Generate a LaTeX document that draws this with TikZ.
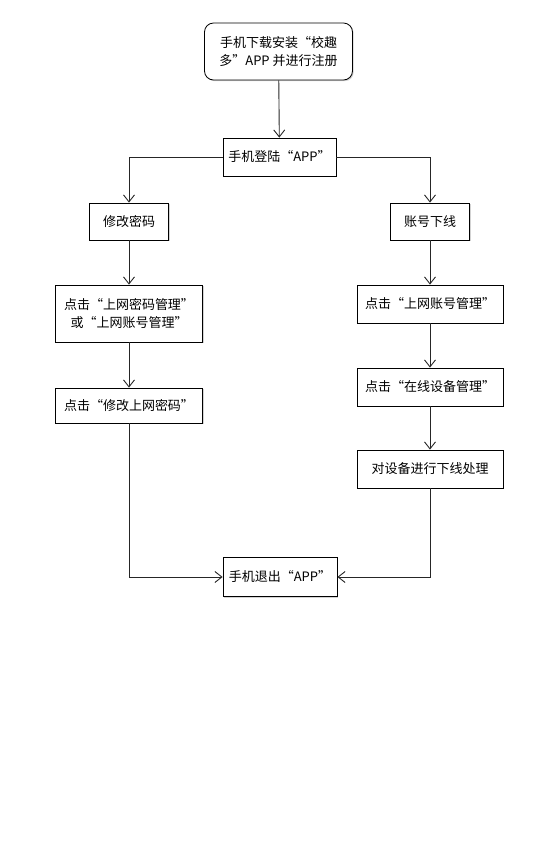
\documentclass[tikz,border=0pt]{standalone}
\usepackage{fontspec}
\setmainfont{Noto Sans CJK SC}
\usetikzlibrary{arrows.meta,shadows}

\begin{document}
\begin{tikzpicture}[x=1pt,y=-1pt,
font=\fontsize{13}{18}\selectfont,
box/.style={draw, rectangle, fill=white, line width=0.8pt, align=center, inner sep=2pt,
  drop shadow={shadow xshift=1.2pt, shadow yshift=-1.2pt, opacity=0.35}},
startbox/.style={box, rounded corners=9pt},
->/.style={draw=black!85, line width=0.9pt, -{Straight Barb[length=7pt,width=11pt]}}
]
\useasboundingbox (0,0) rectangle (554,847);

\node[startbox, minimum width=148pt, minimum height=57pt] (install) at (278.5,51.5) {手机下载安装“校趣\\多”APP 并进行注册};
\node[box, minimum width=113pt, minimum height=38pt] (login) at (279.5,157) {手机登陆“APP”};

\node[box, minimum width=79pt, minimum height=37pt] (pwd) at (129,221.5) {修改密码};
\node[box, minimum width=147pt, minimum height=57pt] (pwdmgr) at (129,313.5) {点击“上网密码管理”\\或“上网账号管理”};
\node[box, minimum width=147pt, minimum height=35pt] (pwdset) at (129,405.5) {点击“修改上网密码”};

\node[box, minimum width=79pt, minimum height=37pt] (acct) at (430,221.5) {账号下线};
\node[box, minimum width=146pt, minimum height=38pt] (acctmgr) at (430,304) {点击“上网账号管理”};
\node[box, minimum width=146pt, minimum height=38pt] (devmgr) at (430,387) {点击“在线设备管理”};
\node[box, minimum width=146pt, minimum height=38pt] (offline) at (430,469) {对设备进行下线处理};

\node[box, minimum width=114pt, minimum height=39pt] (quit) at (280,577) {手机退出“APP”};

\draw[->] (install) -- (login);
\draw[->] (login.west) -| (pwd);
\draw[->] (login.east) -| (acct);
\draw[->] (pwd) -- (pwdmgr);
\draw[->] (pwdmgr) -- (pwdset);
\draw[->] (acct) -- (acctmgr);
\draw[->] (acctmgr) -- (devmgr);
\draw[->] (devmgr) -- (offline);
\draw[->] (pwdset) |- (quit);
\draw[->] (offline) |- (quit);
\end{tikzpicture}
\end{document}
